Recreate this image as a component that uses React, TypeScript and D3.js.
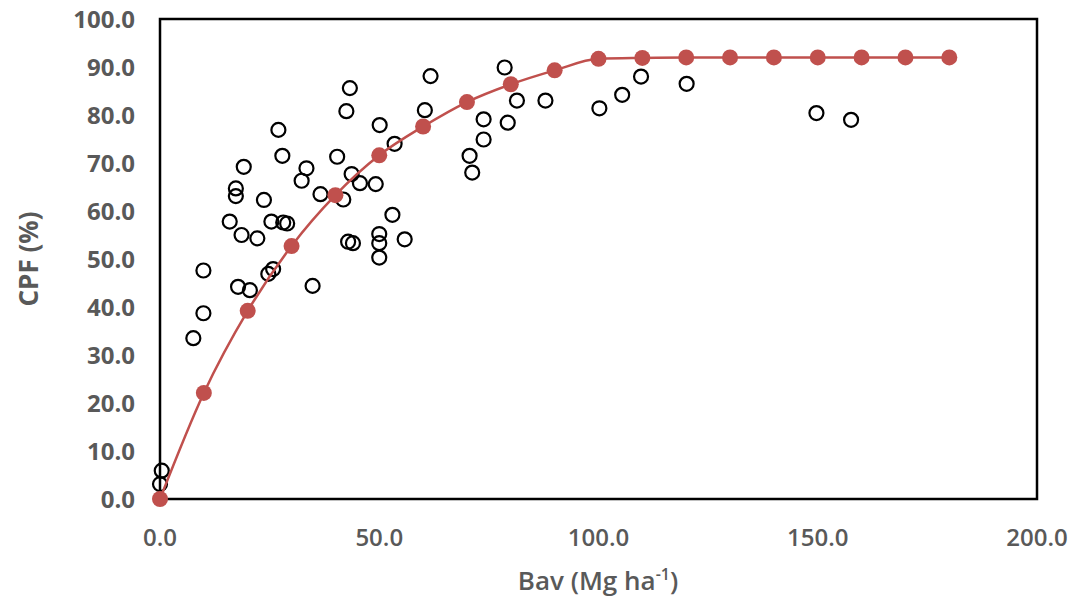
import { useRef, useEffect } from "react";
import * as d3 from "d3";

// observed points (Bav, CPF)
const obsBav = [
  0, 0.4, 7.6, 9.9, 9.9, 17.8, 20.5, 24.7, 25.8, 34.8,
  15.9, 18.6, 22.2, 25.4, 28.1, 29.0, 27.0, 27.9, 19.1, 33.4,
  32.3, 17.3, 17.3, 23.7, 36.6, 61.7, 43.3, 42.5, 60.4, 50.1,
  53.5, 40.4, 43.7, 45.6, 49.2, 41.8, 53.0, 42.9, 44.0, 50.0,
  50.0, 50.0, 55.8, 78.6, 81.4, 87.9, 73.8, 79.3, 73.8, 70.6,
  71.2, 100.2, 105.4, 109.7, 120.1, 149.7, 157.6,
];
const obsCpf = [
  3.1, 5.9, 33.5, 38.7, 47.6, 44.2, 43.5, 46.9, 47.9, 44.4,
  57.8, 55.0, 54.3, 57.8, 57.6, 57.4, 76.9, 71.5, 69.2, 68.9,
  66.3, 64.7, 63.1, 62.3, 63.5, 88.1, 85.6, 80.8, 81.0, 77.9,
  74.0, 71.3, 67.7, 65.8, 65.6, 62.4, 59.2, 53.6, 53.3, 55.2,
  53.3, 50.3, 54.1, 89.9, 83.0, 83.0, 79.1, 78.4, 74.9, 71.5,
  68.0, 81.4, 84.2, 88.0, 86.5, 80.4, 79.0,
];

// fitted model
const fitBav = [0, 10, 20, 30, 40, 50, 60, 70, 80, 90, 100, 110, 120, 130, 140, 150, 160, 170, 180];
const fitCpf = [0, 22.1, 39.2, 52.7, 63.3, 71.6, 77.6, 82.7, 86.4, 89.3, 91.7, 91.9, 92.0, 92.0, 92.0, 92.0, 92.0, 92.0, 92.0];

const xTicks = [0, 50, 100, 150, 200];
const yTicks = [0, 10, 20, 30, 40, 50, 60, 70, 80, 90, 100];

export default function App() {
  const svgRef = useRef<SVGSVGElement>(null);

  useEffect(() => {
    const width = 1075;
    const height = 601;
    const left = 160, right = 1037, top = 19, bottom = 499;
    const grey = "#595959";
    const red = "#c0504d";

    const svg = d3.select(svgRef.current)
      .attr("width", width)
      .attr("height", height);
    svg.selectAll("*").remove();

    const x = d3.scaleLinear().domain([0, 200]).range([left, right]);
    const y = d3.scaleLinear().domain([0, 100]).range([bottom, top]);

    svg.append("rect")
      .attr("width", width)
      .attr("height", height)
      .attr("fill", "white");

    // plot box
    svg.append("rect")
      .attr("x", left)
      .attr("y", top)
      .attr("width", right - left)
      .attr("height", bottom - top)
      .attr("fill", "none")
      .attr("stroke", "black")
      .attr("stroke-width", 2.5);

    // tick labels
    svg.append("g")
      .selectAll("text")
      .data(yTicks)
      .join("text")
      .attr("x", 135)
      .attr("y", (d) => y(d))
      .attr("dy", "0.36em")
      .attr("text-anchor", "end")
      .attr("font-family", "Open Sans")
      .attr("font-weight", 700)
      .attr("font-size", 24)
      .attr("fill", grey)
      .text((d) => d.toFixed(1));

    svg.append("g")
      .selectAll("text")
      .data(xTicks)
      .join("text")
      .attr("x", (d) => x(d))
      .attr("y", 546)
      .attr("text-anchor", "middle")
      .attr("font-family", "Open Sans")
      .attr("font-weight", 600)
      .attr("font-size", 24)
      .attr("fill", grey)
      .text((d) => d.toFixed(1));

    // axis titles
    const xt = svg.append("text")
      .attr("x", 598)
      .attr("y", 590)
      .attr("text-anchor", "middle")
      .attr("font-family", "Open Sans")
      .attr("font-weight", 600)
      .attr("font-size", 26)
      .attr("fill", grey);
    xt.append("tspan").text("Bav (Mg ha");
    xt.append("tspan").attr("font-size", 16).attr("dy", -10).text("-1");
    xt.append("tspan").attr("dy", 10).text(")");

    svg.append("text")
      .attr("transform", "translate(38,259) rotate(-90)")
      .attr("text-anchor", "middle")
      .attr("font-family", "Open Sans")
      .attr("font-weight", 700)
      .attr("font-size", 26)
      .attr("fill", grey)
      .text("CPF (%)");

    // observed
    svg.append("g")
      .selectAll("circle")
      .data(obsBav.map((b, i) => [b, obsCpf[i]]))
      .join("circle")
      .attr("cx", (d) => x(d[0]))
      .attr("cy", (d) => y(d[1]))
      .attr("r", 7)
      .attr("fill", "none")
      .attr("stroke", "black")
      .attr("stroke-width", 2.2);

    // fitted line + markers
    const fit = fitBav.map((b, i) => [b, fitCpf[i]] as [number, number]);
    const line = d3.line<[number, number]>()
      .x((d) => x(d[0]))
      .y((d) => y(d[1]))
      .curve(d3.curveMonotoneX);

    svg.append("path")
      .datum(fit)
      .attr("d", line)
      .attr("fill", "none")
      .attr("stroke", red)
      .attr("stroke-width", 2.5);

    svg.append("g")
      .selectAll("circle")
      .data(fit)
      .join("circle")
      .attr("cx", (d) => x(d[0]))
      .attr("cy", (d) => y(d[1]))
      .attr("r", 8)
      .attr("fill", red);
  }, []);

  return (
    <svg
      ref={svgRef}
      style={{ position: "absolute", left: 0, top: 0, display: "block" }}
    ></svg>
  );
}
